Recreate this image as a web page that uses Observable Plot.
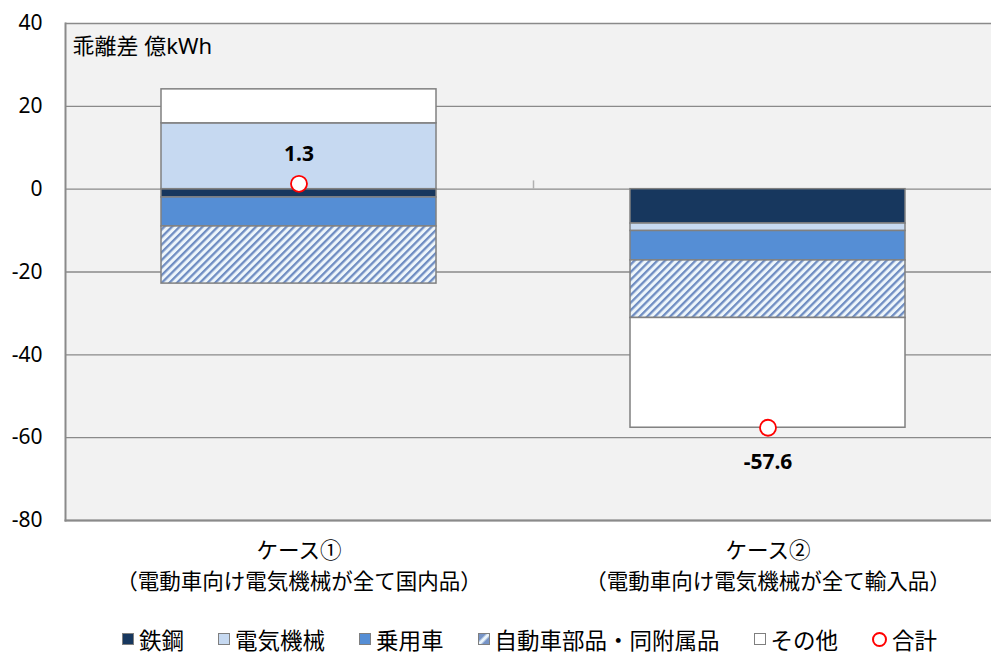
<!DOCTYPE html>
<html><head><meta charset="utf-8">
<script src="https://cdn.jsdelivr.net/npm/d3@7"></script>
<script src="https://cdn.jsdelivr.net/npm/@observablehq/plot@0.6"></script>
<style>
body{margin:0;background:#fff;overflow:hidden;}
#legend{display:flex;justify-content:center;align-items:center;gap:34px;height:38px;font-size:22.5px;font-family:"Noto Sans CJK JP",sans-serif;color:#000;padding-left:68px}
.item{display:flex;align-items:center;gap:5px}
.sw{width:12px;height:12px;border:1px solid #7f7f7f;box-sizing:border-box}
.ring{width:15px;height:15px;border:2px solid #ff0000;border-radius:50%;box-sizing:border-box;background:#fff}
</style></head><body><div id="chart"></div><div id="legend"></div>
<script>
const cases = ["ケース①\n（電動車向け電気機械が全て国内品）", "ケース②\n（電動車向け電気機械が全て輸入品）"];
const series = ["鉄鋼", "電気機械", "乗用車", "自動車部品・同附属品", "その他"];
const case1 = [-2.0, 15.9, -7.0, -13.8, 8.2];
const case2 = [-8.3, -1.8, -7.1, -13.9, -26.5];
const totals = [1.3, -57.6];
const totalLabel = "合計";
const yTicks = [40, 20, 0, -20, -40, -60, -80];
const colors = ["#17375e", "#c6d9f1", "#558ed5", "url(#hatch)", "#ffffff"];
const unitTitle = "乖離差 億kWh";

const caseValues = [case1, case2];
const rows = cases.flatMap((c, i) => series.map((s, j) => ({case: c, series: s, value: caseValues[i][j]})));
const totalRows = cases.map((c, i) => ({case: c, value: totals[i]}));

const W = 991, H = 620;
const CJK = "'Noto Sans CJK JP', sans-serif";
const NUM = "'Noto Sans', 'Noto Sans CJK JP', sans-serif";

const plot = Plot.plot({
  width: W, height: H,
  marginTop: 23, marginBottom: H - 520, marginLeft: 65, marginRight: 0,
  x: {domain: cases, range: [64, 1002], paddingInner: 0.414, paddingOuter: 0.207, label: null},
  y: {domain: [-80, 40], label: null},
  color: {domain: series, range: colors},
  style: {fontFamily: CJK, color: "#000", background: "#fff", overflow: "hidden"},
  marks: [
    Plot.frame({fill: "#f2f2f2", stroke: "none"}),
    Plot.ruleY(yTicks, {stroke: "#8a8a8a", strokeWidth: 1.4}),
    Plot.ruleX(cases.slice(1), {y1: 0, y2: 2, dx: -234.5, stroke: "#b0b0b0", strokeWidth: 1.5}),
    Plot.barY(rows, {x: "case", y: "value", fill: "series", stroke: "#808080", strokeWidth: 1.5}),
    Plot.frame({anchor: "left", stroke: "#8a8a8a", strokeWidth: 2}),
    Plot.frame({anchor: "bottom", stroke: "#8a8a8a", strokeWidth: 2}),
    Plot.dot(totalRows, {x: "case", y: "value", r: 8, fill: "#fff", stroke: "#ff0000", strokeWidth: 1.8}),
    Plot.text(totalRows.filter(d => d.value >= 0), {x: "case", y: "value", text: d => d.value.toFixed(1), dy: -30, fontWeight: "bold", fontSize: 21, fontFamily: NUM}),
    Plot.text(totalRows.filter(d => d.value < 0), {x: "case", y: "value", text: d => d.value.toFixed(1), dy: 35, fontWeight: "bold", fontSize: 21, fontFamily: NUM}),
    Plot.text([unitTitle], {frameAnchor: "top-left", dx: 7, dy: 23, lineAnchor: "middle", textAnchor: "start", fontSize: 22, fontFamily: NUM}),
    Plot.axisY(yTicks, {tickSize: 0, tickPadding: 23, fontSize: 21, fontFamily: NUM, label: null, tickFormat: d => String(d)}),
    Plot.axisX({tickSize: 0, tickPadding: 15, fontSize: 21.5, lineHeight: 1.46, fontFamily: CJK, label: null})
  ]
});

d3.select(plot).insert("defs", ":first-child").html(
  '<pattern id="hatch" patternUnits="userSpaceOnUse" width="5.4" height="5.4" patternTransform="rotate(45)">' +
  '<rect width="5.4" height="5.4" fill="#eef6fb"/><rect width="2.3" height="5.4" fill="#6f8dc2"/></pattern>'
);
document.getElementById("chart").appendChild(plot);

const legend = document.getElementById("legend");
series.forEach((s, j) => {
  const item = document.createElement("div");
  item.className = "item";
  const sw = document.createElement("div");
  sw.className = "sw";
  if (colors[j].startsWith("url")) sw.style.background = "linear-gradient(135deg,#7694c7 0 30%,#eaf4fb 45% 55%,#7694c7 70% 100%)";
  else sw.style.background = colors[j];
  const t = document.createElement("span");
  t.textContent = s;
  item.append(sw, t);
  legend.append(item);
});
const tItem = document.createElement("div");
tItem.className = "item";
const ring = document.createElement("div");
ring.className = "ring";
const tt = document.createElement("span");
tt.textContent = totalLabel;
tItem.append(ring, tt);
legend.append(tItem);
</script></body></html>
